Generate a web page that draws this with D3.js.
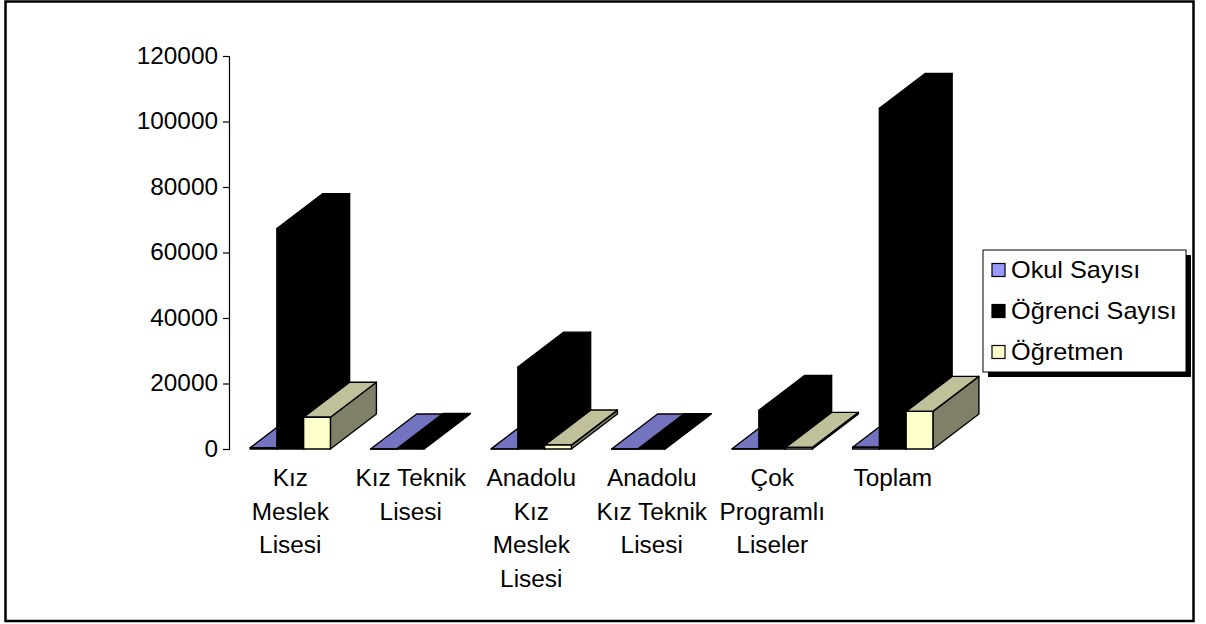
<!DOCTYPE html>
<html>
<head>
<meta charset="utf-8">
<script src="https://cdn.jsdelivr.net/npm/d3@7"></script>
<style>
  body { margin: 0; background: #fff; }
  text { font-family: "Liberation Sans", Arial, sans-serif; font-size: 23px; fill: #000; }
</style>
</head>
<body>
<div id="chart"></div>
<script>
// data
let categories = ["Kız Meslek Lisesi", "Kız Teknik Lisesi", "Anadolu Kız Meslek Lisesi",
                  "Anadolu Kız Teknik Lisesi", "Çok Programlı Liseler", "Toplam"]
let tickLines = [["Kız", "Meslek", "Lisesi"], ["Kız Teknik", "Lisesi"], ["Anadolu", "Kız", "Meslek", "Lisesi"],
                 ["Anadolu", "Kız Teknik", "Lisesi"], ["Çok", "Programlı", "Liseler"], ["Toplam"]]
let seriesNames = ["Okul Sayısı", "Öğrenci Sayısı", "Öğretmen"]
let okulSayisi = [371, 6, 52, 4, 88, 521]
let ogrenciSayisi = [67300, 200, 25000, 100, 11800, 104000]
let ogretmen = [9700, null, 1200, null, 500, 11500]
let yTicks = [0, 20000, 40000, 60000, 80000, 100000, 120000]

let seriesValues = [okulSayisi, ogrenciSayisi, ogretmen]
// front, top, side colours
let faceColors = [
    ["#9999FF", "#7373BF", "#4D4D80"],
    ["#000000", "#000000", "#000000"],
    ["#FFFFCC", "#C0C09A", "#808068"]
]

let width = 1206
let height = 624
let depthX = 46
let depthY = 35
let stretch = 1.06

let svg = d3.select("#chart")
    .append("svg")
    .attr("width", width)
    .attr("height", height)

// outer frame
svg.append("rect")
    .attr("x", 5.5).attr("y", 1.5)
    .attr("width", 1188).attr("height", 619.5)
    .attr("fill", "#fff")
    .attr("stroke", "#000")
    .attr("stroke-width", 2.5)

let x0 = d3.scaleBand()
    .domain(categories)
    .range([230, 953])
    .paddingInner(1 / 3)
    .paddingOuter(1 / 6)

let x1 = d3.scaleBand()
    .domain(seriesNames)
    .range([0, x0.bandwidth()])

let y = d3.scaleLinear()
    .domain([0, 120000])
    .range([449, 56])

// y axis
let yAxis = d3.axisLeft(y)
    .tickValues(yTicks)
    .tickSize(6)
    .tickPadding(5)
    .tickFormat(d3.format("d"))

let yG = svg.append("g")
    .attr("transform", "translate(229,0)")
    .call(yAxis)
yG.attr("font-family", null).attr("font-size", null)
yG.select(".domain").attr("stroke", "#000").attr("stroke-width", 1.2)
yG.selectAll(".tick line").attr("stroke", "#000").attr("stroke-width", 1.2)
yG.selectAll("text")
    .attr("transform", function(){
        let tx = +this.getAttribute("x")
        return `translate(${tx},0) scale(${stretch},1)`
    })
    .attr("x", 0)

// 3d bars, drawn left to right so later ones cover earlier side faces
let bars = svg.append("g").attr("class", "bars")

categories.forEach(function(cat, ci){
    seriesNames.forEach(function(name, si){
        let v = seriesValues[si][ci]
        if (v === null) return
        let bx = x0(cat) + x1(name)
        let bw = x1.bandwidth()
        let yt = y(v)
        let yb = y(0)
        let cols = faceColors[si]
        let g = bars.append("g")
            .attr("stroke", "#000")
            .attr("stroke-width", 1.4)
            .attr("stroke-linejoin", "round")

        // side
        g.append("polygon")
            .attr("points", [[bx + bw, yt], [bx + bw + depthX, yt - depthY],
                             [bx + bw + depthX, yb - depthY], [bx + bw, yb]].join(" "))
            .attr("fill", cols[2])
        // top
        g.append("polygon")
            .attr("points", [[bx, yt], [bx + depthX, yt - depthY],
                             [bx + bw + depthX, yt - depthY], [bx + bw, yt]].join(" "))
            .attr("fill", cols[1])
        // front
        g.append("rect")
            .attr("x", bx).attr("y", yt)
            .attr("width", bw).attr("height", Math.max(0, yb - yt))
            .attr("fill", cols[0])
    })
})

// category labels
let xLabels = svg.append("g").attr("class", "xLabels")
categories.forEach(function(cat, ci){
    let cx = x0(cat) + x0.bandwidth() / 2
    tickLines[ci].forEach(function(line, li){
        xLabels.append("text")
            .attr("transform", `translate(${cx},${486 + li * 33.5}) scale(${stretch},1)`)
            .attr("text-anchor", "middle")
            .text(line)
    })
})

// legend
let legend = svg.append("g").attr("class", "legend")
legend.append("rect")
    .attr("x", 988).attr("y", 255)
    .attr("width", 203).attr("height", 122)
    .attr("fill", "#000")
legend.append("rect")
    .attr("x", 983).attr("y", 250)
    .attr("width", 203).attr("height", 122)
    .attr("fill", "#fff")
    .attr("stroke", "#000")
    .attr("stroke-width", 1)

seriesNames.forEach(function(name, si){
    let ly = 270 + si * 41
    legend.append("rect")
        .attr("x", 992).attr("y", ly - 6.5)
        .attr("width", 13).attr("height", 13)
        .attr("fill", faceColors[si][0])
        .attr("stroke", "#000")
        .attr("stroke-width", 1.2)
    legend.append("text")
        .attr("transform", `translate(1011,${ly}) scale(1.1,1)`)
        .attr("dy", "0.36em")
        .text(name)
})
</script>
</body>
</html>
